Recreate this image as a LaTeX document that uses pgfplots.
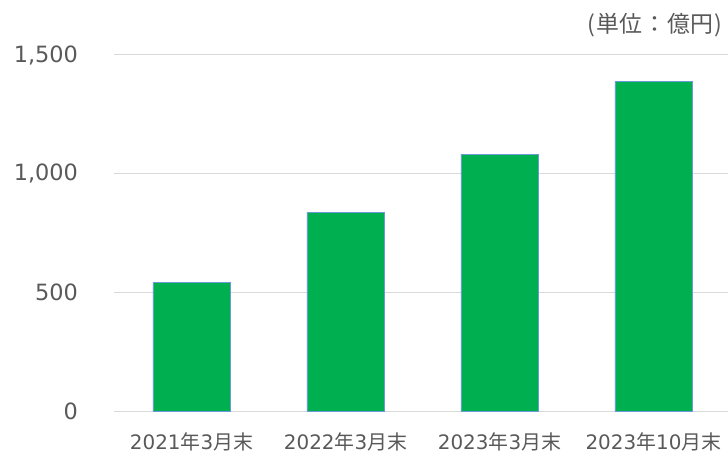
\documentclass[border=0pt]{standalone}
\usepackage{fontspec}
\setmainfont{DejaVu Sans}
\newfontfamily\cjk{Noto Sans CJK JP}
\usepackage{pgfplots}
\pgfplotsset{compat=1.18}
\definecolor{barg}{HTML}{00B050}
\definecolor{bare}{HTML}{6A9BD8}
\definecolor{gridc}{HTML}{D9D9D9}
\definecolor{txt}{HTML}{595959}
\begin{document}
\begin{tikzpicture}
\begin{axis}[
  at={(0,0)}, anchor=south west,
  scale only axis,
  width=613.5bp, height=356bp,
  xmin=-0.5, xmax=3.484,
  ymin=0, ymax=1500,
  axis line style={draw=none},
  ytick={0,500,1000,1500},
  yticklabels={0,500,{1,000},{1,500}},
  xtick={0,1,2,3},
  xticklabels={2021{\cjk 年}3{\cjk 月末},2022{\cjk 年}3{\cjk 月末},2023{\cjk 年}3{\cjk 月末},2023{\cjk 年}10{\cjk 月末}},
  major tick length=0pt,
  ymajorgrids,
  grid style={gridc, line width=1pt},
  yticklabel style={font=\fontsize{22.5}{26}\selectfont, text=txt, xshift=-33bp},
  xticklabel style={font=\fontsize{20}{24}\selectfont, text=txt, yshift=-18bp},
  clip=false,
]
\addplot[ybar, bar width=0.5, fill=barg, draw=bare, line width=0.8pt] coordinates {(0,541) (1,836) (2,1082) (3,1388)};
\end{axis}
\node[anchor=east, text=txt, font=\cjk\fontsize{23}{26}\selectfont, inner sep=0pt] at (608bp,386bp) {(\kern2pt 単位\kern1pt：\kern1pt 億円\kern1pt)};
\pgfresetboundingbox
\path[use as bounding box] (-114.5bp,-46bp) rectangle (613.5bp,411bp);
\end{tikzpicture}
\end{document}
